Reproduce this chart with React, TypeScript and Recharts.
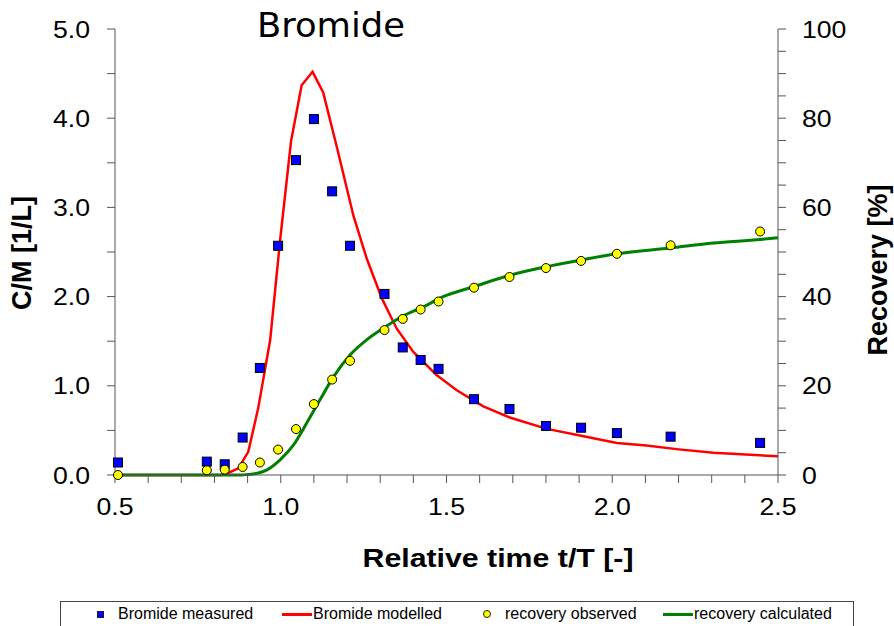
import React from "react";
import { ComposedChart, XAxis, YAxis, Line, Scatter, Label } from "recharts";

// ---- data ----
const sampleTimes = [0.509, 0.777, 0.831, 0.885, 0.937, 0.992, 1.046, 1.1, 1.155, 1.209, 1.313, 1.368, 1.422, 1.476, 1.583, 1.69, 1.8, 1.906, 2.014, 2.176, 2.446];
const bromideMeasured = [0.14, 0.15, 0.12, 0.42, 1.2, 2.57, 3.53, 3.99, 3.18, 2.57, 2.03, 1.43, 1.29, 1.19, 0.85, 0.74, 0.55, 0.53, 0.47, 0.43, 0.36];
const recoveryObserved = [0, 1.05, 1.2, 1.8, 2.8, 5.7, 10.3, 15.9, 21.4, 25.6, 32.5, 35.0, 37.1, 38.9, 42.0, 44.4, 46.4, 48.0, 49.6, 51.5, 54.6];

const modelTimes = [0.5, 0.82, 0.84, 0.872, 0.902, 0.932, 0.968, 0.998, 1.031, 1.063, 1.096, 1.128, 1.169, 1.219, 1.259, 1.305, 1.35, 1.4, 1.47, 1.531, 1.611, 1.691, 1.8, 1.906, 2.014, 2.103, 2.194, 2.305, 2.5];
const bromideModelled = [0, 0, 0.02, 0.075, 0.26, 0.75, 1.51, 2.63, 3.74, 4.37, 4.52, 4.29, 3.68, 2.91, 2.43, 1.98, 1.64, 1.38, 1.12, 0.95, 0.77, 0.645, 0.52, 0.44, 0.36, 0.33, 0.29, 0.25, 0.21];

const calcTimes = [0.5, 0.88, 0.9, 0.93, 0.957, 0.998, 1.038, 1.078, 1.118, 1.159, 1.209, 1.259, 1.309, 1.37, 1.43, 1.49, 1.581, 1.691, 1.8, 1.906, 2.014, 2.176, 2.305, 2.446, 2.5];
const recoveryCalculated = [0, 0, 0.1, 0.4, 1.1, 3.4, 6.7, 11.6, 16.8, 22.0, 26.9, 30.3, 32.9, 35.7, 37.7, 40.0, 42.2, 44.8, 46.7, 48.2, 49.6, 50.9, 52.0, 52.8, 53.2];

const xTicks = [0.5, 0.6, 0.7, 0.8, 0.9, 1.0, 1.1, 1.2, 1.3, 1.4, 1.5, 1.6, 1.7, 1.8, 1.9, 2.0, 2.1, 2.2, 2.3, 2.4, 2.5];
const xLabelled = [0.5, 1.0, 1.5, 2.0, 2.5];
const leftTicks = [0, 0.5, 1, 1.5, 2, 2.5, 3, 3.5, 4, 4.5, 5];
const leftLabelled = [0, 1, 2, 3, 4, 5];
const rightTicks = [0, 5, 10, 15, 20, 25, 30, 35, 40, 45, 50, 55, 60, 65, 70, 75, 80, 85, 90, 95, 100];
const rightLabelled = [0, 20, 40, 60, 80, 100];

const measuredData = sampleTimes.map((t, i) => ({ t, c: bromideMeasured[i] }));
const observedData = sampleTimes.map((t, i) => ({ t, r: recoveryObserved[i] }));
const modelledData = modelTimes.map((t, i) => ({ t, c: bromideModelled[i] }));
const calculatedData = calcTimes.map((t, i) => ({ t, r: recoveryCalculated[i] }));

const ARIAL = "'Liberation Sans', Arial, sans-serif";
const near = (v: number, list: number[]) => list.some((x) => Math.abs(x - v) < 1e-6);
const SX = 1.11;

const makeTick = (fmt: (v: number) => string, dy: string) => (p: any) => {
  const { x, y, payload, textAnchor } = p;
  const s = fmt(payload.value);
  if (!s) return <g />;
  return (
    <text
      x={x}
      y={y}
      dy={dy}
      textAnchor={textAnchor}
      fontFamily={ARIAL}
      fontSize={24}
      fill="#000"
      transform={`translate(${x} 0) scale(${SX} 1) translate(${-x} 0)`}
    >
      {s}
    </text>
  );
};

const xTick = makeTick((v) => (near(v, xLabelled) ? v.toFixed(1) : ""), "0.71em");
const leftTick = makeTick((v) => (near(v, leftLabelled) ? v.toFixed(1) : ""), "0.355em");
const rightTick = makeTick((v) => (near(v, rightLabelled) ? String(v) : ""), "0.355em");

const Square = (p: any) => (
  <rect x={p.cx - 4.5} y={p.cy - 4.5} width={9} height={9} fill="#0000ff" stroke="#000" strokeWidth={1} />
);
const Dot = (p: any) => <circle cx={p.cx} cy={p.cy} r={4.5} fill="#ffff00" stroke="#000" strokeWidth={1} />;

const legendText: React.CSSProperties = {
  position: "absolute",
  top: 605,
  fontFamily: ARIAL,
  fontSize: 16,
  lineHeight: "18px",
  color: "#000",
  whiteSpace: "nowrap",
};

export default function App() {
  return (
    <div style={{ position: "absolute", left: 0, top: 0, width: 894, height: 626, background: "#fff", overflow: "hidden" }}>
      <ComposedChart width={894} height={626} margin={{ top: 29, right: 0, bottom: 0, left: 0 }}>
        <XAxis
          xAxisId={0}
          dataKey="t"
          type="number"
          domain={[0.5, 2.5]}
          ticks={xTicks}
          interval={0}
          height={151}
          tickSize={8}
          tickMargin={15}
          stroke="#555"
          tick={xTick}
        >
          <Label
            content={() => (
              <text
                x={498}
                y={567}
                textAnchor="middle"
                fontFamily={ARIAL}
                fontWeight="bold"
                fontSize={26}
                fill="#000"
                textLength={271}
                lengthAdjust="spacingAndGlyphs"
              >
                Relative time t/T [-]
              </text>
            )}
          />
        </XAxis>
        <YAxis
          yAxisId="left"
          orientation="left"
          width={115}
          domain={[0, 5]}
          ticks={leftTicks}
          interval={0}
          tickSize={8}
          tickMargin={17}
          stroke="#555"
          tick={leftTick}
        >
          <Label
            content={() => (
              <g>
                <text
                  x={22}
                  y={253}
                  transform="rotate(-90 22 253)"
                  textAnchor="middle"
                  dominantBaseline="central"
                  fontFamily={ARIAL}
                  fontWeight="bold"
                  fontSize={27}
                  fill="#000"
                >
                  C/M [1/L]
                </text>
                <text
                  x={331}
                  y={37}
                  textAnchor="middle"
                  fontFamily="'DejaVu Sans', Verdana, sans-serif"
                  fontSize={33.5}
                  fill="#000"
                  textLength={148}
                  lengthAdjust="spacingAndGlyphs"
                >
                  Bromide
                </text>
              </g>
            )}
          />
        </YAxis>
        <YAxis
          yAxisId="right"
          orientation="right"
          width={116}
          domain={[0, 100]}
          ticks={rightTicks}
          interval={0}
          tickSize={8}
          tickMargin={16}
          stroke="#555"
          tick={rightTick}
        >
          <Label
            content={() => (
              <text
                x={878}
                y={270}
                transform="rotate(-90 878 270)"
                textAnchor="middle"
                dominantBaseline="central"
                fontFamily={ARIAL}
                fontWeight="bold"
                fontSize={27}
                fill="#000"
              >
                Recovery [%]
              </text>
            )}
          />
        </YAxis>
        <Line
          data={modelledData}
          dataKey="c"
          yAxisId="left"
          type="linear"
          stroke="#ff0000"
          strokeWidth={2.5}
          dot={false}
          activeDot={false}
          isAnimationActive={false}
          name="Bromide modelled"
        />
        <Line
          data={calculatedData}
          dataKey="r"
          yAxisId="right"
          type="monotone"
          stroke="#008000"
          strokeWidth={3}
          dot={false}
          activeDot={false}
          isAnimationActive={false}
          name="recovery calculated"
        />
        <Scatter data={measuredData} dataKey="c" yAxisId="left" shape={Square} isAnimationActive={false} name="Bromide measured" />
        <Scatter data={observedData} dataKey="r" yAxisId="right" shape={Dot} isAnimationActive={false} name="recovery observed" />
      </ComposedChart>

      {/* legend */}
      <div style={{ position: "absolute", left: 60, top: 601, width: 794, height: 40, border: "1px solid #444", boxSizing: "border-box" }} />
      <div style={{ position: "absolute", left: 97, top: 611, width: 7, height: 7, background: "#0000ff", border: "1px solid #222", boxSizing: "border-box" }} />
      <div style={{ ...legendText, left: 118 }}>Bromide measured</div>
      <div style={{ position: "absolute", left: 282, top: 613, width: 30, height: 3, background: "#ff0000" }} />
      <div style={{ ...legendText, left: 313 }}>Bromide modelled</div>
      <div style={{ position: "absolute", left: 483, top: 610, width: 8, height: 8, borderRadius: 4, background: "#ffff00", border: "1px solid #222", boxSizing: "border-box" }} />
      <div style={{ ...legendText, left: 505 }}>recovery observed</div>
      <div style={{ position: "absolute", left: 663, top: 613, width: 30, height: 3, background: "#008000" }} />
      <div style={{ ...legendText, left: 694 }}>recovery calculated</div>
    </div>
  );
}
